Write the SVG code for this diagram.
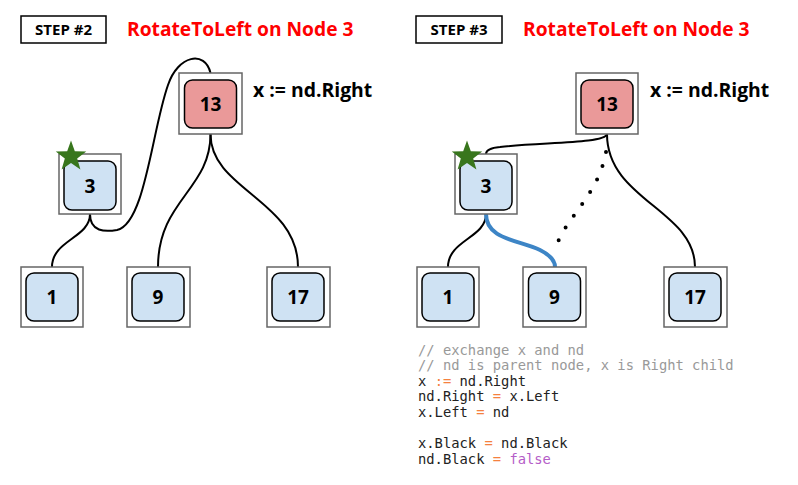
<svg xmlns="http://www.w3.org/2000/svg" width="798" height="485" viewBox="0 0 798 485">
<style>
.outer{fill:#fff;stroke:#666;stroke-width:1.5}
.inner{stroke:#000;stroke-width:1.5}
.blue{fill:#cfe2f3}
.red{fill:#ea9999}
.lbl{font-family:"Open Sans","DejaVu Sans",sans-serif;font-weight:bold;font-size:19px;fill:#000;text-anchor:middle}
.step{font-family:"Open Sans","DejaVu Sans",sans-serif;font-weight:bold;font-size:15px;fill:#000;text-anchor:middle}
.title{font-family:"Open Sans","DejaVu Sans",sans-serif;font-weight:bold;font-size:19.2px;fill:#ff0000}
.note{font-family:"Open Sans","DejaVu Sans",sans-serif;font-weight:bold;font-size:19.4px;fill:#000}
.edge{fill:none;stroke:#000;stroke-width:2}
.code{font-family:"DejaVu Sans Mono",monospace;font-size:13.8px;fill:#222;white-space:pre}
.cm{fill:#999}
.op{fill:#f5813f}
.kw{fill:#b55dc8}
.star{fill:#38761d}
</style>
<defs>
<polygon id="star" class="star" points="71,140.5 74.82,151.24 86.22,151.56 77.18,158.51 80.40,169.44 71,163 61.60,169.44 64.82,158.51 55.78,151.56 67.18,151.24"/>
</defs>

<g id="connectors">
<path class="edge" d="M90,214 C90,238 52,240 52,267"/>
<path class="edge" d="M90,214 C90,232 105,232 117,230 C145,224 152,130 168,85 C178,55 205,50 210.5,73"/>
<path class="edge" d="M210.5,134 C210.5,190 158,200 158,267"/>
<path class="edge" d="M210.5,134 C210.5,190 298,200 298,267"/>
<path class="edge" d="M607,134 C605,144 540,142 500,147 C490,148 486,151 486,154"/>
<path class="edge" d="M607,134 C607,200 695,210 695,267"/>
<path class="edge" d="M486,214 C486,238 448,240 448,267"/>
<path fill="none" stroke="#000" stroke-width="4" stroke-linecap="round" stroke-dasharray="0 14.4" d="M606,152 C598,198 560,222 555,252"/>
<path fill="none" stroke="#3d85c6" stroke-width="4" d="M486,214 C486,240 520,240 540,250 C552,256 555,262 555,267"/>
</g>

<g id="step2-label">
<rect x="21" y="16" width="85" height="27" fill="#fff" stroke="#000" stroke-width="1.5"/>
<text class="step" x="63.5" y="35">STEP #2</text>
</g>
<text id="title2" class="title" x="127" y="36">RotateToLeft on Node 3</text>
<text id="note2" class="note" x="253" y="97">x := nd.Right</text>

<g id="s2-n13">
<rect class="outer" x="179" y="73" width="63" height="61"/>
<rect class="inner red" x="184.5" y="80" width="52" height="48" rx="8"/>
<text class="lbl" x="210.5" y="111">13</text>
</g>
<g id="s2-n3">
<rect class="outer" x="59" y="154" width="62" height="60"/>
<rect class="inner blue" x="64" y="161" width="52" height="49" rx="8"/>
<text class="lbl" x="90" y="192.5">3</text>
<use href="#star"/>
</g>
<g id="s2-n1">
<rect class="outer" x="21" y="267" width="62" height="60"/>
<rect class="inner blue" x="26" y="273" width="52" height="48" rx="8"/>
<text class="lbl" x="52" y="304">1</text>
</g>
<g id="s2-n9">
<rect class="outer" x="127" y="267" width="63" height="60"/>
<rect class="inner blue" x="132" y="273" width="52" height="48" rx="8"/>
<text class="lbl" x="158" y="304">9</text>
</g>
<g id="s2-n17">
<rect class="outer" x="267" y="267" width="63" height="60"/>
<rect class="inner blue" x="272" y="273" width="52" height="48" rx="8"/>
<text class="lbl" x="298" y="304">17</text>
</g>

<g id="step3-label">
<rect x="416" y="16" width="86" height="27" fill="#fff" stroke="#000" stroke-width="1.5"/>
<text class="step" x="459" y="35">STEP #3</text>
</g>
<text id="title3" class="title" x="523" y="36">RotateToLeft on Node 3</text>
<text id="note3" class="note" x="650" y="97">x := nd.Right</text>

<g id="s3-n13">
<rect class="outer" x="576" y="73" width="62" height="61"/>
<rect class="inner red" x="581" y="80" width="52" height="48" rx="8"/>
<text class="lbl" x="607" y="111">13</text>
</g>
<g id="s3-n3">
<rect class="outer" x="455" y="154" width="62" height="60"/>
<rect class="inner blue" x="460" y="161" width="52" height="49" rx="8"/>
<text class="lbl" x="486" y="192.5">3</text>
<use href="#star" x="396"/>
</g>
<g id="s3-n1">
<rect class="outer" x="417" y="267" width="62" height="60"/>
<rect class="inner blue" x="422" y="273" width="52" height="48" rx="8"/>
<text class="lbl" x="448" y="304">1</text>
</g>
<g id="s3-n9">
<rect class="outer" x="523" y="267" width="63" height="60"/>
<rect class="inner blue" x="528.5" y="273" width="52" height="48" rx="8"/>
<text class="lbl" x="554.5" y="304">9</text>
</g>
<g id="s3-n17">
<rect class="outer" x="664" y="267" width="63" height="60"/>
<rect class="inner blue" x="669" y="273" width="52" height="48" rx="8"/>
<text class="lbl" x="695" y="304">17</text>
</g>

<g id="code">
<text class="code cm" x="418" y="354.5">// exchange x and nd</text>
<text class="code cm" x="418" y="370.1">// nd is parent node, x is Right child</text>
<text class="code" x="418" y="385.7">x <tspan class="op">:=</tspan> nd.Right</text>
<text class="code" x="418" y="401.3">nd.Right <tspan class="op">=</tspan> x.Left</text>
<text class="code" x="418" y="416.9">x.Left <tspan class="op">=</tspan> nd</text>
<text class="code" x="418" y="448.1">x.Black <tspan class="op">=</tspan> nd.Black</text>
<text class="code" x="418" y="463.7">nd.Black <tspan class="op">=</tspan> <tspan class="kw">false</tspan></text>
</g>
</svg>
